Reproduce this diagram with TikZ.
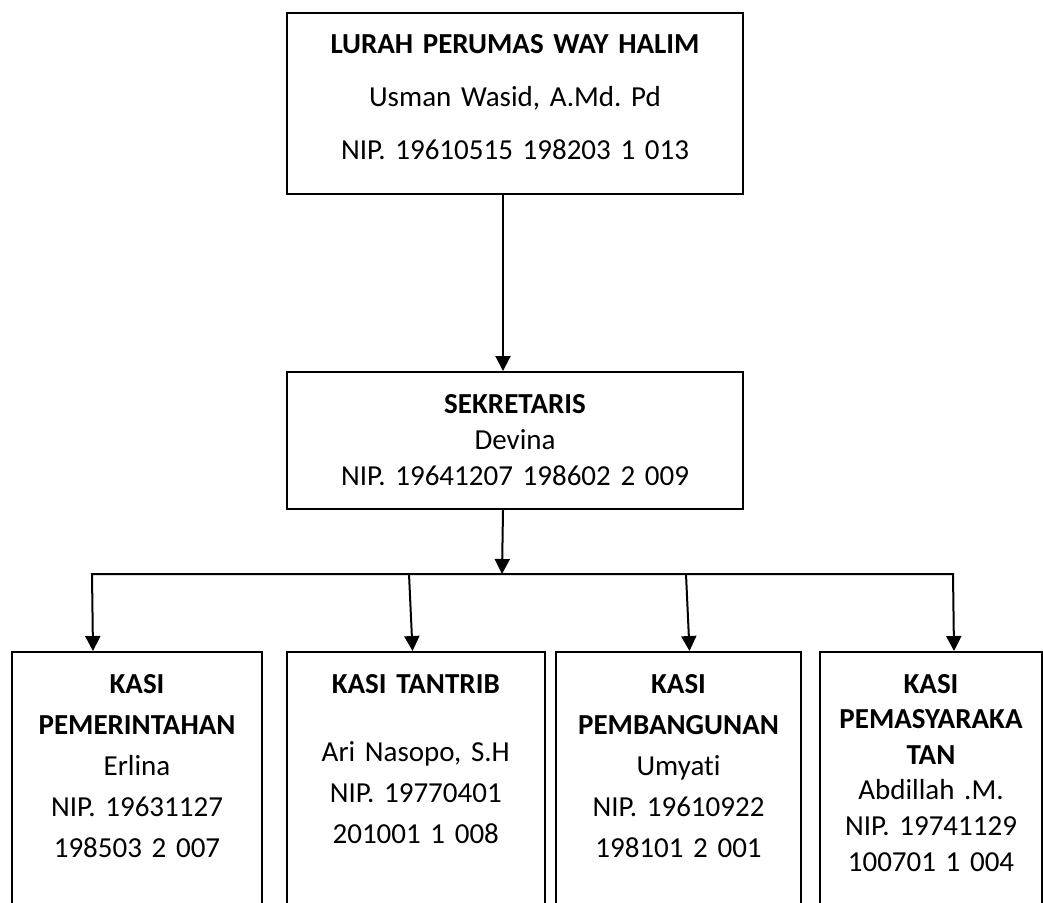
\documentclass[tikz,border=0pt]{standalone}
\usepackage{fontspec}
\setmainfont{Carlito}[Ligatures={TeX,NoCommon}]
\frenchspacing
\usetikzlibrary{arrows.meta,positioning,calc}

\tikzset{orgtip/.tip={Triangle[width=7.5pt,length=7.5pt]}}

\begin{document}
\begin{tikzpicture}[x=0.5pt,y=-0.5pt,
  box/.style={draw,line width=1pt,inner sep=0pt,anchor=north west,align=center,
    font=\fontsize{14.5}{20.5}\selectfont},
  kasibox/.style={box,text height=20.5pt,text depth=114pt},
  arr/.style={-orgtip,line width=1pt},
  busline/.style={orgtip-orgtip,line width=1pt}]
  \clip (0,0) rectangle (1043,902);

  %% Lurah
  \node[box,text width=228pt,text height=20pt,text depth=70.5pt,
        font=\fontsize{14.5}{26.5}\selectfont] (lurah) at (286,12)
        {\textbf{LURAH PERUMAS WAY HALIM}\\Usman Wasid, A.Md. Pd\\NIP. 19610515 198203 1 013};

  %% Sekretaris
  \node[box,text width=228pt,text height=20.5pt,text depth=48pt,
        font=\fontsize{14.5}{18}\selectfont] (sek) at (286,371)
        {\textbf{SEKRETARIS}\\Devina\\NIP. 19641207 198602 2 009};

  %% Kasi boxes
  \node[kasibox,text width=125pt] (kpem) at (11,651)
        {\textbf{KASI}\\\textbf{PEMERINTAHAN}\\Erlina\\NIP. 19631127\\198503 2 007};
  \node[kasibox,text width=128.75pt] (ktan) at (286,651)
        {\textbf{KASI TANTRIB}\\[13.5pt]Ari Nasopo, S.H\\NIP. 19770401\\201001 1 008};
  \node[kasibox,text width=122.5pt] (kbang) at (555,651)
        {\textbf{KASI}\\\textbf{PEMBANGUNAN}\\Umyati\\NIP. 19610922\\198101 2 001};
  \node[kasibox,text width=111pt,font=\fontsize{14.5}{17.8}\selectfont] (kmas) at (819,651)
        {\textbf{KASI}\\\textbf{PEMASYARAKA}\\\textbf{TAN}\\Abdillah .M.\\NIP. 19741129\\100701 1 004};

  %% Connectors
  \coordinate (bus) at (502,574);
  \coordinate (b1) at (92,574);
  \coordinate (b2) at (409,574);
  \coordinate (b3) at (686,574);
  \coordinate (b4) at (953,574);

  \draw[arr] ([xshift=-6pt]lurah.south) -- ([xshift=-6pt]sek.north);
  \draw[arr] ([xshift=-6pt]sek.south) -- (bus);
  \draw[busline] ([xshift=-22pt]kpem.north) -- (b1) -- (b4) -- ([xshift=11.5pt]kmas.north);
  \draw[arr] (b2) -- ([xshift=-1.6pt]ktan.north);
  \draw[arr] (b3) -- ([xshift=5.5pt]kbang.north);
\end{tikzpicture}
\end{document}
